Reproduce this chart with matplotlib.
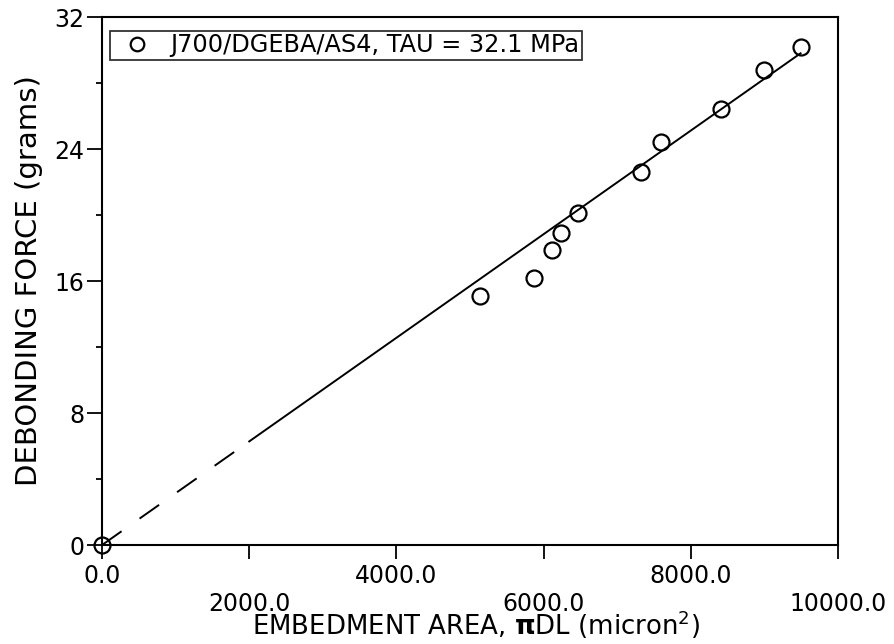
import matplotlib.pyplot as plt
import numpy as np

# debonding data: embedment area (micron^2) vs force (grams)
area = [0, 5140, 5870, 6120, 6230, 6470, 7320, 7600, 8410, 8990, 9500]
force = [0.0, 15.1, 16.2, 17.9, 18.9, 20.1, 22.6, 24.4, 26.4, 28.8, 30.2]

# fitted line (force = slope * area)
slope = 3.14e-3
fit_dashed = [0, 2000]
fit_solid = [2000, 9490]

xticks = [0, 2000, 4000, 6000, 8000, 10000]
yticks = [0, 8, 16, 24, 32]
yminor = [4, 12, 20, 28]

plt.rcParams["font.family"] = "DejaVu Sans"

fig = plt.figure(figsize=(8.95, 6.44), dpi=100)
ax = fig.add_axes([0.1140, 0.1537, 0.8224, 0.8199])

xd = np.array(fit_dashed)
xs = np.array(fit_solid)
ax.plot(xd, slope * xd, color="black", lw=1.4, ls=(0, (12.3, 11.3)))
ax.plot(xs, slope * xs, color="black", lw=1.4)
ax.plot(area, force, "o", mfc="none", mec="black", ms=11.5, mew=1.6,
        clip_on=False, zorder=5, label="J700/DGEBA/AS4, TAU = 32.1 MPa")

ax.set_xlim(0, 10000)
ax.set_ylim(0, 32)

# alternate the x tick labels on two rows
labels = []
for i, t in enumerate(xticks):
    s = f"{t:.1f}"
    labels.append(s if i % 2 == 0 else "\n" + s)
ax.set_xticks(xticks)
ax.set_xticklabels(labels, fontsize=17)
ax.set_yticks(yticks)
ax.set_yticklabels([str(v) for v in yticks], fontsize=17)
ax.set_yticks(yminor, minor=True)

ax.tick_params(axis="x", direction="out", length=10, width=1.3, pad=4)
ax.tick_params(axis="y", which="major", direction="out", length=11, width=1.3, pad=1.5)
ax.tick_params(axis="y", which="minor", direction="out", length=4.5, width=1.3)
for sp in ax.spines.values():
    sp.set_linewidth(1.5)

ax.set_xlabel(r"EMBEDMENT AREA, $\mathbf{\pi}$DL (micron$^2$)", fontsize=18.7)
ax.xaxis.label.set_va("baseline")
ax.xaxis.set_label_coords(0.508, -0.171)

ax.set_ylabel("DEBONDING FORCE (grams)", fontsize=21)
ax.yaxis.label.set_va("baseline")
ax.yaxis.set_label_coords(-0.0883, 0.5)

leg = ax.legend(loc="upper left", bbox_to_anchor=(0.0109, 0.9735),
                borderaxespad=0, fontsize=17.3, frameon=True, fancybox=False,
                edgecolor="black", handlelength=2.05, handletextpad=0.35,
                borderpad=0.1, markerscale=0.85)
leg.get_frame().set_linewidth(1.3)

fig.savefig("out.png", dpi=100)
